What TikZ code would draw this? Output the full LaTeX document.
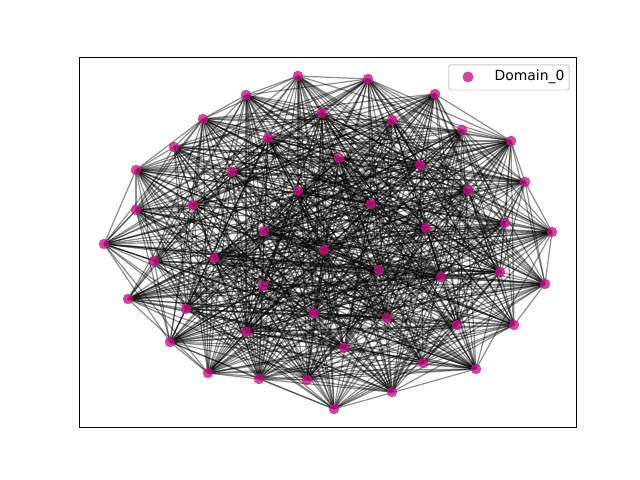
\documentclass[tikz,border=0pt]{standalone}
\usepackage{fontspec}
\setmainfont{DejaVu Sans}
\pgfdeclarelayer{edges}
\pgfsetlayers{edges,main}
\definecolor{domaincol}{RGB}{199,21,133}
\begin{document}
\begin{tikzpicture}[x=0.01cm,y=-0.01cm,
           node_style/.style={circle,inner sep=0pt,minimum size=0.105cm,fill=domaincol,fill opacity=0.8,draw=none},
           edge_style/.style={draw=black,opacity=0.45,line width=0.34pt},
           legend_style/.style={draw=black!20,fill=white,fill opacity=0.8,text opacity=1,rounded corners=0.6pt,line width=0.28pt,minimum width=1.2cm,minimum height=0.25cm,inner sep=0pt}]
            \useasboundingbox (0,0) rectangle (640,480);
            \pgfmathsetseed{2718}
            \node[node_style] (v1) at (298, 76)  {};
            \node[node_style] (v2) at (368, 79)  {};
            \node[node_style] (v3) at (246, 95)  {};
            \node[node_style] (v4) at (435, 94)  {};
            \node[node_style] (v5) at (322, 113)  {};
            \node[node_style] (v6) at (392, 120)  {};
            \node[node_style] (v7) at (203, 119)  {};
            \node[node_style] (v8) at (462, 130)  {};
            \node[node_style] (v9) at (268, 138)  {};
            \node[node_style] (v10) at (511, 141)  {};
            \node[node_style] (v11) at (174, 147)  {};
            \node[node_style] (v12) at (339, 158)  {};
            \node[node_style] (v13) at (420, 165)  {};
            \node[node_style] (v14) at (136, 170)  {};
            \node[node_style] (v15) at (232, 172)  {};
            \node[node_style] (v16) at (525, 182)  {};
            \node[node_style] (v17) at (298, 191)  {};
            \node[node_style] (v18) at (468, 190)  {};
            \node[node_style] (v19) at (193, 205)  {};
            \node[node_style] (v20) at (371, 204)  {};
            \node[node_style] (v21) at (136, 210)  {};
            \node[node_style] (v22) at (505, 223)  {};
            \node[node_style] (v23) at (264, 231)  {};
            \node[node_style] (v24) at (426, 228)  {};
            \node[node_style] (v25) at (552, 232)  {};
            \node[node_style] (v26) at (104, 244)  {};
            \node[node_style] (v27) at (324, 250)  {};
            \node[node_style] (v28) at (214, 258)  {};
            \node[node_style] (v29) at (154, 261)  {};
            \node[node_style] (v30) at (379, 270)  {};
            \node[node_style] (v31) at (500, 272)  {};
            \node[node_style] (v32) at (441, 277)  {};
            \node[node_style] (v33) at (545, 284)  {};
            \node[node_style] (v34) at (263, 286)  {};
            \node[node_style] (v35) at (128, 299)  {};
            \node[node_style] (v36) at (186, 309)  {};
            \node[node_style] (v37) at (314, 313)  {};
            \node[node_style] (v38) at (387, 318)  {};
            \node[node_style] (v39) at (457, 325)  {};
            \node[node_style] (v40) at (514, 325)  {};
            \node[node_style] (v41) at (246, 332)  {};
            \node[node_style] (v42) at (170, 342)  {};
            \node[node_style] (v43) at (344, 348)  {};
            \node[node_style] (v44) at (423, 363)  {};
            \node[node_style] (v45) at (476, 369)  {};
            \node[node_style] (v46) at (208, 373)  {};
            \node[node_style] (v47) at (259, 379)  {};
            \node[node_style] (v48) at (307, 380)  {};
            \node[node_style] (v49) at (392, 392)  {};
            \node[node_style] (v50) at (334, 409)  {};
            % random edges, a bit more than half of all pairs
            \begin{pgfonlayer}{edges}
            \foreach \i in {1,...,49}{
                \pgfmathtruncatemacro{\next}{\i+1}
                \foreach \j in {\next,...,50}{
                    \pgfmathparse{rnd}
                    \ifdim\pgfmathresult pt<0.6pt
                        \draw[edge_style] (v\i.center) -- (v\j.center);
                    \fi
                }
            }
            \end{pgfonlayer}
            % axes frame and legend
            \node[draw=black,line width=0.3pt,minimum width=4.96cm,minimum height=3.69cm,inner sep=0pt] (frame) at (328,242.5) {};
            \node[legend_style] (legend) at (509,77.5) {};
            \node[node_style,minimum size=0.11cm] (mark) at (468,77) {};
            \node[anchor=west,inner sep=0pt,font=\fontsize{3.95}{4.7}\selectfont] (label) at (494,77) {Domain\_0};
        \end{tikzpicture}
\end{document}
